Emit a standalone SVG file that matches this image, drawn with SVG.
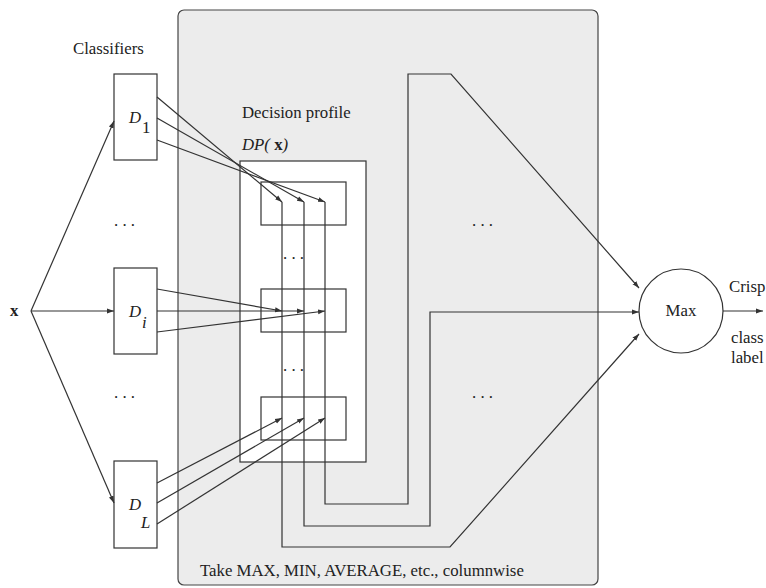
<svg xmlns="http://www.w3.org/2000/svg" width="766" height="588" viewBox="0 0 766 588">
<style>
.t{font-family:"Liberation Serif","Times New Roman",serif;font-size:16.8px;fill:#222}
.i{font-style:italic}
.ln{fill:none;stroke:#333;stroke-width:1.2}
.bx{fill:#fff;stroke:#333;stroke-width:1.2}
</style>
<defs>
<marker id="ah" viewBox="0 0 10 10" refX="10" refY="5" markerWidth="7" markerHeight="7" markerUnits="userSpaceOnUse" orient="auto">
<path d="M0,1.5 L10,5 L0,8.5 Z" fill="#333"/>
</marker>
</defs>
<rect width="766" height="588" fill="#fff"/>
<g id="combiner">
<rect x="178" y="10" width="420" height="575" rx="6" fill="#ececec" stroke="#444" stroke-width="1.2"/>
<text class="t" x="242" y="118">Decision profile</text>
<text class="t" x="242" y="150"><tspan class="i">DP(</tspan> <tspan font-weight="bold">x</tspan><tspan class="i">)</tspan></text>
<text class="t" x="200" y="576">Take MAX, MIN, AVERAGE, etc., columnwise</text>
<text class="t" x="472" y="226">. . .</text>
<text class="t" x="472" y="398">. . .</text>
</g>
<g id="dp">
<rect class="bx" x="240" y="161" width="126" height="301"/>
<rect class="bx" x="261" y="182" width="85" height="43"/>
<rect class="bx" x="261" y="289" width="85" height="43"/>
<rect class="bx" x="261" y="397" width="85" height="43"/>
<text class="t" x="283" y="259" font-size="12">. . .</text>
<text class="t" x="283" y="371" font-size="12">. . .</text>
</g>
<g id="classifiers">
<text class="t" x="73" y="54">Classifiers</text>
<text class="t" x="10" y="316" font-weight="bold">x</text>
<g id="D1"><rect class="bx" x="114" y="74" width="43" height="86"/><text class="t i" x="129" y="123" font-size="17">D</text><text class="t" x="142" y="133" font-size="17">1</text></g>
<g id="Di"><rect class="bx" x="114" y="268" width="43" height="86"/><text class="t i" x="129" y="317" font-size="17">D</text><text class="t i" x="142" y="328" font-size="17">i</text></g>
<g id="DL"><rect class="bx" x="114" y="461" width="43" height="87"/><text class="t i" x="129" y="510" font-size="17">D</text><text class="t i" x="141" y="528" font-size="17">L</text></g>
<text class="t" x="114" y="226">. . .</text>
<text class="t" x="114" y="398">. . .</text>
</g>
<g id="max">
<circle cx="681" cy="311" r="42" fill="#fff" stroke="#333" stroke-width="1.2"/>
<text class="t" x="681" y="316" text-anchor="middle">Max</text>
<text class="t" x="729" y="292">Crisp</text>
<text class="t" x="731" y="343">class</text>
<text class="t" x="731" y="363">label</text>
</g>
<g id="connectors">
<path class="ln" d="M31,311 L114,121" marker-end="url(#ah)"/>
<path class="ln" d="M31,311 L114,311" marker-end="url(#ah)"/>
<path class="ln" d="M31,311 L114,503" marker-end="url(#ah)"/>
<path class="ln" d="M157,97 L282,202" marker-end="url(#ah)"/>
<path class="ln" d="M157,118 L304,202" marker-end="url(#ah)"/>
<path class="ln" d="M157,140 L325,202" marker-end="url(#ah)"/>
<path class="ln" d="M157,289 L282,311" marker-end="url(#ah)"/>
<path class="ln" d="M157,311 L304,311" marker-end="url(#ah)"/>
<path class="ln" d="M157,332 L325,311" marker-end="url(#ah)"/>
<path class="ln" d="M157,483 L282,418" marker-end="url(#ah)"/>
<path class="ln" d="M157,503 L304,418" marker-end="url(#ah)"/>
<path class="ln" d="M157,524 L325,418" marker-end="url(#ah)"/>
<path class="ln" d="M282,202 V547 H450 L639,334" marker-end="url(#ah)"/>
<path class="ln" d="M304,202 V526 H430 V312 H639" marker-end="url(#ah)"/>
<path class="ln" d="M325,202 V504 H408 V74 H451 L639,288" marker-end="url(#ah)"/>
<path class="ln" d="M723,311 H763" marker-end="url(#ah)"/>
</g>
</svg>
